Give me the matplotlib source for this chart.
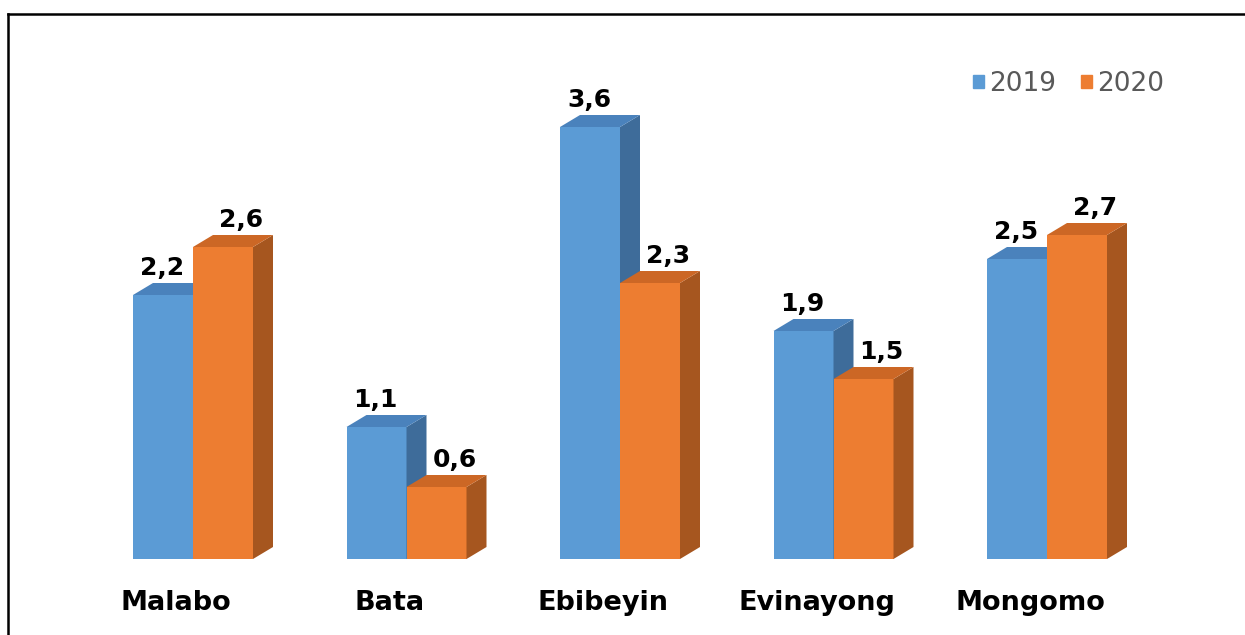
import matplotlib.pyplot as plt
from matplotlib.patches import Polygon
from matplotlib.lines import Line2D

cities = ["Malabo", "Bata", "Ebibeyin", "Evinayong", "Mongomo"]
values_2019 = [2.2, 1.1, 3.6, 1.9, 2.5]
values_2020 = [2.6, 0.6, 2.3, 1.5, 2.7]
years = ["2019", "2020"]

# front, top, side colours for each series
colors = {
    "2019": ("#5B9BD5", "#4A82BC", "#3E6C9A"),
    "2020": ("#ED7D31", "#CC6725", "#A6561F"),
}

W, H = 1245, 635
fig = plt.figure(figsize=(W / 100, H / 100), dpi=100)
ax = fig.add_axes([0, 0, 1, 1])

# pixel -> data: x = (px - 193) / 213.5 ; v = (559 - py) / 120
sx, sy = 213.5, 120.0
ax.set_xlim(-193 / sx, (W - 193) / sx)
ax.set_ylim((559 - H) / sy, 559 / sy)
ax.axis("off")

bw = 60 / sx
dx, dy = 20 / sx, 12 / sy


def bar3d(x0, v, year):
    front, top, side = colors[year]
    ax.bar(x0, v, width=bw, align="edge", color=front, linewidth=0, zorder=2)
    ax.add_patch(Polygon([(x0 + bw, 0), (x0 + bw + dx, dy), (x0 + bw + dx, v + dy), (x0 + bw, v)],
                         closed=True, facecolor=side, linewidth=0, zorder=2))
    ax.add_patch(Polygon([(x0, v), (x0 + dx, v + dy), (x0 + bw + dx, v + dy), (x0 + bw, v)],
                         closed=True, facecolor=top, linewidth=0, zorder=2))


for i, city in enumerate(cities):
    bar3d(i - bw, values_2019[i], "2019")
    bar3d(i, values_2020[i], "2020")
    ax.text(i - bw / 2 - 1 / sx, values_2019[i] + 27 / sy, f"{values_2019[i]:.1f}".replace(".", ","),
            ha="center", va="center", fontsize=18, fontweight="bold", color="black", zorder=3)
    ax.text(i + bw / 2 + 18 / sx, values_2020[i] + 27 / sy, f"{values_2020[i]:.1f}".replace(".", ","),
            ha="center", va="center", fontsize=18, fontweight="bold", color="black", zorder=3)
    ax.text(i - 17 / sx, -44 / sy, city, ha="center", va="center",
            fontsize=19.5, fontweight="bold", color="black")

# legend
handles = [plt.Rectangle((0, 0), 1, 1, color=colors[y][0]) for y in years]
leg = ax.legend(handles, years, loc="center left", bbox_to_anchor=(962 / W, 1 - 84 / H),
                ncol=2, frameon=False, fontsize=19, handlelength=0.42, handleheight=0.42,
                handletextpad=0.2, columnspacing=0.95, borderaxespad=0)
for t in leg.get_texts():
    t.set_color("#595959")

# chart frame (top and left edges)
fig.add_artist(Line2D([8 / W, 1], [1 - 14 / H, 1 - 14 / H], color="black", linewidth=1.8))
fig.add_artist(Line2D([8 / W, 8 / W], [0, 1 - 14 / H], color="black", linewidth=1.8))

fig.savefig("out.png", dpi=100)
